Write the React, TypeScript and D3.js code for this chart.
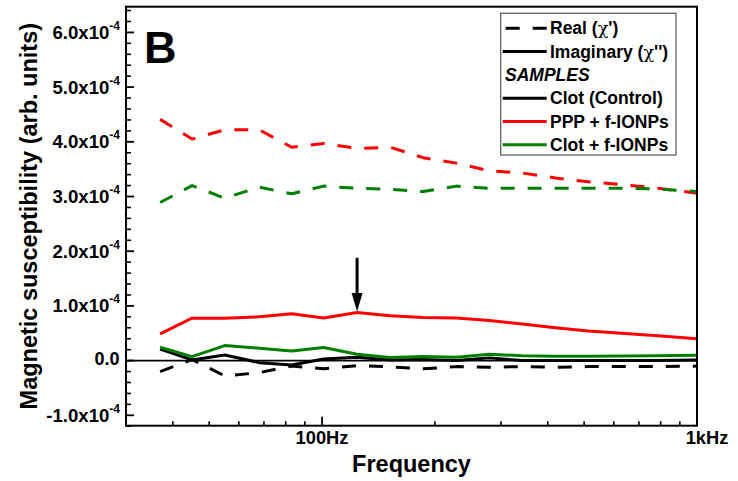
import React from "react";
import * as d3 from "d3";

const freqs = [37, 45, 55, 68, 83, 101, 124, 152, 186, 228, 279, 342, 419, 513, 628, 770, 1000];

// values in units of 1e-4
const realClot = [-0.2, 0.02, -0.28, -0.22, -0.1, -0.15, -0.09, -0.115, -0.15, -0.11, -0.12, -0.11, -0.12, -0.11, -0.11, -0.11, -0.1];
const realPPP = [4.41, 4.05, 4.22, 4.22, 3.9, 3.97, 3.88, 3.9, 3.71, 3.61, 3.47, 3.43, 3.34, 3.27, 3.22, 3.16, 3.06];
const realClotF = [2.89, 3.2, 2.97, 3.17, 3.05, 3.19, 3.15, 3.13, 3.09, 3.19, 3.15, 3.15, 3.15, 3.15, 3.15, 3.14, 3.09];
const imagClot = [0.21, 0.013, 0.104, -0.037, -0.079, 0.031, 0.062, 0.013, 0.02, 0.0, 0.05, 0.0, 0.0, 0.0, 0.0, 0.0, 0.01];
const imagPPP = [0.49, 0.775, 0.775, 0.8, 0.855, 0.78, 0.88, 0.82, 0.79, 0.78, 0.735, 0.67, 0.6, 0.54, 0.5, 0.46, 0.4];
const imagClotF = [0.245, 0.073, 0.274, 0.227, 0.177, 0.238, 0.117, 0.055, 0.073, 0.06, 0.117, 0.09, 0.08, 0.08, 0.085, 0.09, 0.1];

const yMajorTicks = [-1, 0, 1, 2, 3, 4, 5, 6];
const xMajorTicks = [100, 1000];
const xTickLabels = ["100Hz", "1kHz"];
const xMinorTicks = [40, 50, 60, 70, 80, 90, 200, 300, 400, 500, 600, 700, 800, 900];

const sampleNames = ["Clot (Control)", "PPP + f-IONPs", "Clot + f-IONPs"];
const sampleColors = ["#000000", "#ff0000", "#008000"];

const arrowFreq = 124;
const arrowFrom = 1.88;
const arrowTo = 0.9;

const W = 738;
const H = 481;
const M = { left: 126, right: 697, top: 6.7, bottom: 425.7 };
const FONT = "'Liberation Sans', Arial, sans-serif";

export default function App() {
  const x = d3.scaleLog().domain([30, 1000]).range([M.left, M.right]);
  const y = d3.scaleLinear().domain([-1.19, 6.47]).range([M.bottom, M.top]);
  const line = (vals: number[]) =>
    d3.line<number>().x((_, i) => x(freqs[i])).y((v) => y(v))(vals) || "";

  const yMinor = d3.range(-12, 65, 2).map((v) => v / 10).filter((v) => Math.abs(v - Math.round(v)) > 1e-6);
  const dash = "14 13";

  const series = [
    { vals: imagClot, color: sampleColors[0], dashed: false },
    { vals: realClot, color: sampleColors[0], dashed: true },
    { vals: imagPPP, color: sampleColors[1], dashed: false },
    { vals: realPPP, color: sampleColors[1], dashed: true },
    { vals: imagClotF, color: sampleColors[2], dashed: false },
    { vals: realClotF, color: sampleColors[2], dashed: true },
  ];

  const legX = 500.7;
  const legY = 13.3;
  const rowY = (i: number) => 28.3 + i * 23.3;

  return (
    <div style={{ position: "absolute", left: 0, top: 0 }}>
      <svg width={W} height={H} style={{ display: "block", background: "#fff" }} fontFamily={FONT}>
        <defs>
          <clipPath id="plotclip">
            <rect x={M.left} y={M.top} width={M.right - M.left} height={M.bottom - M.top} />
          </clipPath>
        </defs>
        {/* zero line */}
        <line x1={M.left} x2={M.right} y1={y(0)} y2={y(0)} stroke="#000" strokeWidth={1.6} />
        {/* data */}
        <g clipPath="url(#plotclip)">
          {series.map((s, i) => (
            <path
              key={i}
              d={line(s.vals)}
              fill="none"
              stroke={s.color}
              strokeWidth={3}
              strokeDasharray={s.dashed ? dash : undefined}
              strokeLinejoin="round"
            />
          ))}
        </g>
        {/* arrow */}
        <line x1={x(arrowFreq)} x2={x(arrowFreq)} y1={y(arrowFrom)} y2={y(arrowTo) - 14} stroke="#000" strokeWidth={3} />
        <path
          d={`M${x(arrowFreq) - 5.5},${y(arrowTo) - 18.5} L${x(arrowFreq) + 5.5},${y(arrowTo) - 18.5} L${x(arrowFreq)},${y(arrowTo)} Z`}
          fill="#000"
        />
        {/* frame */}
        <rect x={M.left} y={M.top} width={M.right - M.left} height={M.bottom - M.top} fill="none" stroke="#000" strokeWidth={2} />
        {/* y ticks */}
        {yMajorTicks.map((t) => (
          <line key={"ym" + t} x1={M.left} x2={M.left + 8} y1={y(t)} y2={y(t)} stroke="#000" strokeWidth={1.8} />
        ))}
        {yMinor.map((t) => (
          <line key={"yn" + t} x1={M.left} x2={M.left + 5} y1={y(t)} y2={y(t)} stroke="#000" strokeWidth={1.6} />
        ))}
        {yMajorTicks.map((t) =>
          t === 0 ? (
            <text key={"yl" + t} x={119.5} y={y(t) + 4} textAnchor="end" fontSize={18} fontWeight="bold">
              0.0
            </text>
          ) : (
            <text key={"yl" + t} x={120} y={y(t) + 6.5} textAnchor="end" fontSize={18.6} fontWeight="bold">
              {t.toFixed(1) + "x10"}
              <tspan fontSize={12} dy={-9}>-4</tspan>
            </text>
          )
        )}
        {/* x ticks */}
        {xMajorTicks.map((t) => (
          <line key={"xm" + t} x1={x(t)} x2={x(t)} y1={M.bottom} y2={M.bottom - 9} stroke="#000" strokeWidth={1.8} />
        ))}
        {xMinorTicks.map((t) => (
          <line key={"xn" + t} x1={x(t)} x2={x(t)} y1={M.bottom} y2={M.bottom - 4.5} stroke="#000" strokeWidth={1.6} />
        ))}
        {xMajorTicks.map((t, i) => (
          <text key={"xl" + t} x={x(t) + (i === 1 ? 10 : 0)} y={443.5} textAnchor="middle" fontSize={18.3} fontWeight="bold">
            {xTickLabels[i]}
          </text>
        ))}
        {/* axis titles */}
        <text x={(M.left + M.right) / 2} y={472} textAnchor="middle" fontSize={23.5} fontWeight="bold">
          Frequency
        </text>
        <text
          transform={`translate(37,${(M.top + M.bottom) / 2}) rotate(-90)`}
          textAnchor="middle"
          fontSize={23.5}
          fontWeight="bold"
        >
          Magnetic susceptibility (arb. units)
        </text>
        {/* panel label */}
        <text x={144} y={63.3} fontSize={45} fontWeight="bold">
          B
        </text>
        {/* legend */}
        <rect x={legX} y={legY} width={676 - legX} height={155 - legY} fill="#fff" stroke="#555" strokeWidth={1.2} />
        <line x1={502.7} x2={546.7} y1={rowY(0)} y2={rowY(0)} stroke="#000" strokeWidth={3} strokeDasharray={dash} strokeDashoffset={-3} />
        <text x={550} y={rowY(0) + 6} fontSize={17.5} fontWeight="bold">Real (<tspan fontFamily="'DejaVu Serif', serif" fontWeight="normal">χ</tspan>')</text>
        <line x1={502.7} x2={546.7} y1={rowY(1)} y2={rowY(1)} stroke="#000" strokeWidth={3} />
        <text x={550} y={rowY(1) + 6} fontSize={17.5} fontWeight="bold">Imaginary (<tspan fontFamily="'DejaVu Serif', serif" fontWeight="normal">χ</tspan>'')</text>
        <text x={505} y={rowY(2) + 6} fontSize={17.5} fontWeight="bold" fontStyle="italic">SAMPLES</text>
        {sampleNames.map((n, i) => (
          <g key={n}>
            <line x1={502.7} x2={546.7} y1={rowY(3 + i)} y2={rowY(3 + i)} stroke={sampleColors[i]} strokeWidth={3} />
            <text x={550} y={rowY(3 + i) + 6} fontSize={17.5} fontWeight="bold">{n}</text>
          </g>
        ))}
      </svg>
    </div>
  );
}
